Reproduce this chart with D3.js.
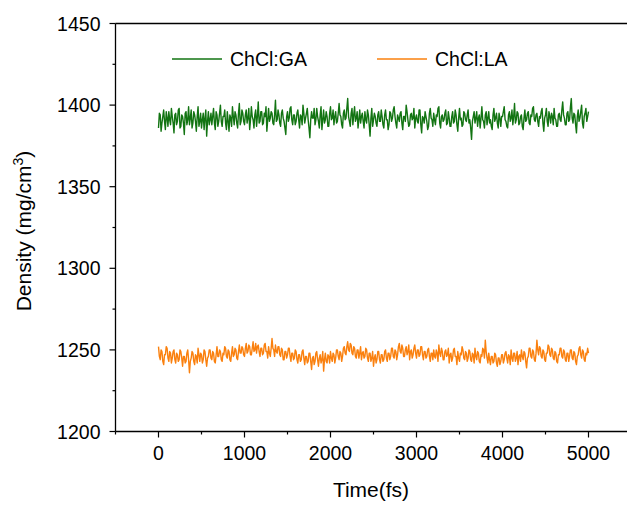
<!DOCTYPE html>
<html>
<head>
<meta charset="utf-8">
<script src="https://cdn.jsdelivr.net/npm/d3@7"></script>
<style>
  body { margin: 0; background: #fff; }
  text { font-family: "Liberation Sans", Arial, sans-serif; fill: #000; }
</style>
</head>
<body>
<div id="chart"></div>
<script>
// density sampled every 10 fs from 0 to 5000
const timeEnd = 5000;

const densityGA = [
  1386,1395,1394,1384,1389,1393,1397,1390,1385,1396,1392,1387,1396,1391,1388,1398,1393,1389,1383,1394,
  1395,1388,1390,1397,1398,1386,1387,1394,1393,1389,1382,1395,1396,1388,1391,1399,1388,1392,1397,1386,
  1389,1396,1394,1390,1384,1393,1399,1387,1390,1395,1386,1391,1395,1385,1392,1397,1381,1390,1396,1388,
  1391,1395,1388,1393,1398,1389,1385,1396,1394,1387,1390,1395,1400,1390,1387,1393,1393,1397,1389,1385,
  1396,1390,1384,1394,1392,1387,1399,1393,1388,1396,1394,1389,1386,1395,1401,1388,1390,1397,1395,1390,
  1388,1394,1397,1389,1392,1398,1385,1391,1399,1393,1391,1386,1394,1397,1387,1393,1402,1389,1390,1396,
  1396,1388,1389,1395,1393,1399,1384,1391,1398,1390,1392,1396,1395,1389,1388,1394,1403,1390,1391,1397,
  1394,1389,1387,1395,1397,1392,1390,1386,1382,1393,1396,1390,1392,1398,1399,1391,1388,1394,1394,1388,
  1390,1395,1397,1391,1386,1394,1393,1388,1400,1395,1389,1392,1395,1398,1391,1386,1380,1391,1396,1392,
  1392,1398,1388,1391,1398,1393,1390,1386,1394,1399,1385,1391,1397,1389,1391,1396,1393,1387,1387,1395,
  1399,1391,1392,1397,1388,1393,1396,1389,1390,1395,1401,1394,1393,1388,1386,1395,1397,1391,1392,1398,
  1404,1393,1390,1387,1395,1398,1388,1394,1399,1390,1392,1396,1386,1391,1397,1389,1393,1395,1390,1386,
  1396,1391,1389,1397,1394,1388,1381,1392,1398,1387,1391,1395,1393,1389,1387,1394,1396,1390,1390,1397,
  1393,1388,1386,1394,1397,1391,1391,1385,1388,1396,1395,1390,1392,1397,1399,1393,1389,1386,1394,1392,
  1390,1395,1396,1389,1385,1393,1393,1390,1400,1396,1391,1387,1388,1394,1395,1391,1392,1398,1386,1392,
  1394,1390,1389,1397,1397,1388,1383,1393,1392,1389,1396,1393,1390,1385,1387,1395,1398,1392,1391,1387,
  1395,1391,1388,1394,1393,1398,1399,1389,1386,1393,1394,1390,1391,1395,1397,1388,1389,1396,1392,1387,
  1387,1393,1396,1389,1390,1397,1394,1388,1384,1392,1398,1391,1392,1387,1388,1396,1395,1391,1390,1394,
  1397,1389,1391,1386,1379,1390,1393,1396,1389,1392,1396,1387,1392,1394,1386,1392,1399,1391,1390,1386,
  1394,1396,1388,1392,1396,1389,1391,1387,1385,1394,1398,1390,1392,1395,1389,1386,1395,1392,1387,1393,
  1393,1396,1399,1391,1390,1387,1386,1394,1396,1390,1392,1397,1388,1393,1401,1389,1391,1396,1395,1388,
  1389,1393,1394,1387,1385,1392,1397,1390,1391,1395,1396,1389,1388,1394,1393,1398,1399,1391,1390,1394,
  1395,1390,1387,1393,1392,1396,1398,1389,1384,1392,1394,1398,1390,1387,1396,1393,1389,1395,1393,1388,
  1398,1392,1391,1387,1387,1394,1395,1391,1390,1397,1402,1394,1392,1388,1388,1395,1396,1390,1391,1399,
  1404,1392,1389,1395,1394,1388,1383,1393,1397,1390,1392,1396,1400,1389,1386,1393,1395,1398,1390,1393,
  1396
];

const densityLA = [
  1252,1246,1244,1250,1249,1243,1241,1247,1247,1252,1251,1245,1243,1249,1248,1242,1245,1249,1250,1244,
  1242,1248,1247,1243,1244,1250,1249,1245,1240,1246,1246,1242,1243,1248,1250,1244,1236,1243,1245,1249,
  1248,1243,1241,1247,1246,1242,1251,1247,1243,1248,1247,1242,1244,1250,1249,1244,1240,1245,1246,1250,
  1250,1245,1244,1249,1248,1243,1242,1247,1252,1246,1246,1250,1249,1244,1243,1248,1247,1252,1251,1246,
  1245,1250,1249,1244,1243,1248,1252,1246,1247,1251,1250,1245,1244,1249,1253,1248,1248,1252,1251,1247,
  1246,1251,1254,1248,1249,1253,1252,1247,1247,1251,1255,1249,1250,1254,1248,1252,1253,1249,1246,1251,
  1251,1247,1248,1253,1254,1249,1249,1245,1252,1248,1246,1251,1257,1251,1250,1246,1253,1249,1248,1252,
  1252,1247,1246,1251,1250,1244,1244,1249,1249,1245,1247,1251,1251,1246,1243,1248,1248,1244,1245,1250,
  1249,1244,1242,1247,1247,1243,1244,1249,1250,1245,1241,1246,1246,1242,1243,1248,1248,1243,1238,1245,
  1246,1241,1243,1248,1249,1244,1240,1245,1247,1242,1244,1249,1237,1244,1248,1243,1242,1247,1246,1242,
  1249,1245,1243,1248,1247,1242,1245,1250,1250,1246,1244,1249,1248,1243,1246,1251,1252,1248,1247,1252,
  1255,1250,1249,1254,1253,1248,1247,1252,1251,1246,1245,1250,1250,1245,1248,1252,1244,1248,1249,1245,
  1246,1251,1250,1245,1243,1248,1248,1243,1245,1249,1240,1245,1247,1242,1244,1249,1249,1244,1242,1247,
  1247,1243,1244,1249,1250,1245,1243,1248,1248,1244,1246,1251,1251,1246,1245,1250,1249,1244,1247,1252,
  1254,1249,1248,1253,1251,1246,1246,1250,1252,1247,1249,1253,1244,1249,1250,1245,1247,1251,1253,1248,
  1245,1250,1250,1246,1247,1252,1252,1247,1244,1249,1249,1245,1246,1250,1251,1246,1243,1248,1248,1244,
  1250,1246,1245,1250,1248,1243,1253,1248,1246,1251,1249,1244,1244,1249,1250,1246,1247,1251,1242,1247,
  1248,1243,1245,1250,1251,1246,1246,1241,1249,1245,1243,1248,1247,1252,1250,1245,1244,1249,1248,1243,
  1245,1250,1249,1244,1243,1248,1247,1242,1251,1246,1244,1249,1248,1243,1242,1247,1246,1251,1250,1245,
  1256,1249,1245,1242,1248,1244,1241,1246,1246,1242,1243,1248,1247,1242,1240,1245,1245,1241,1243,1247,
  1247,1242,1244,1248,1249,1245,1242,1247,1246,1241,1250,1245,1243,1248,1248,1243,1245,1249,1241,1246,
  1247,1243,1250,1246,1244,1249,1248,1243,1239,1245,1246,1251,1251,1246,1245,1250,1249,1244,1243,1248,
  1256,1250,1247,1252,1251,1246,1245,1250,1249,1244,1243,1248,1248,1253,1252,1247,1246,1251,1250,1245,
  1244,1249,1248,1243,1242,1247,1247,1251,1251,1246,1245,1250,1249,1244,1243,1248,1248,1243,1246,1250,
  1250,1245,1244,1249,1248,1243,1241,1246,1247,1251,1252,1247,1245,1250,1249,1244,1243,1248,1247,1251,
  1248
];

const seriesNames = ["ChCl:GA", "ChCl:LA"];
const seriesColors = ["#127412", "#fa800e"];
const xTicks = [0, 1000, 2000, 3000, 4000, 5000];
const yTicks = [1200, 1250, 1300, 1350, 1400, 1450];

const width = 627, height = 506;

const svg = d3.select("#chart").append("svg")
    .attr("width", width)
    .attr("height", height);

const x = d3.scaleLinear().domain([-500, 5500]).range([115.5, 631.5]);
const y = d3.scaleLinear().domain([1200, 1450]).range([431.5, 23.5]);

// series lines, spread evenly over 0..5000 fs
[densityGA, densityLA].forEach(function(s, k) {
    const step = timeEnd / (s.length - 1);
    const line = d3.line()
        .x(function(d, i) { return x(i * step); })
        .y(function(d) { return y(d); });
    svg.append("path")
        .attr("d", line(s))
        .attr("fill", "none")
        .attr("stroke", seriesColors[k])
        .attr("stroke-width", 1.4)
        .attr("stroke-linejoin", "round");
});

// frame (top line, the right side falls outside the picture)
svg.append("line")
    .attr("x1", x(-500)).attr("x2", x(5500))
    .attr("y1", y(1450)).attr("y2", y(1450))
    .attr("stroke", "#000").attr("stroke-width", 1.3);

// y axis
const yAxis = svg.append("g").attr("transform", `translate(${x(-500)},0)`);
yAxis.append("line")
    .attr("y1", y(1450)).attr("y2", y(1200))
    .attr("stroke", "#000").attr("stroke-width", 1.3);
yAxis.selectAll(".ymin")
    .data(d3.range(1225, 1450, 50)).enter()
    .append("line")
    .attr("x1", -3).attr("x2", 0)
    .attr("y1", function(d) { return y(d); }).attr("y2", function(d) { return y(d); })
    .attr("stroke", "#000").attr("stroke-width", 1.2);
yAxis.selectAll(".ymaj")
    .data(yTicks).enter()
    .append("line")
    .attr("x1", -6).attr("x2", 0)
    .attr("y1", function(d) { return y(d); }).attr("y2", function(d) { return y(d); })
    .attr("stroke", "#000").attr("stroke-width", 1.2);
yAxis.selectAll(".ylab")
    .data(yTicks).enter()
    .append("text")
    .attr("x", -15)
    .attr("y", function(d) { return y(d); })
    .attr("dy", "0.36em")
    .attr("text-anchor", "end")
    .style("font-size", "19.5px")
    .text(function(d) { return d; });

// x axis
const xAxis = svg.append("g").attr("transform", `translate(0,${y(1200)})`);
xAxis.append("line")
    .attr("x1", x(-500)).attr("x2", x(5500))
    .attr("stroke", "#000").attr("stroke-width", 1.3);
xAxis.selectAll(".xmin")
    .data(d3.range(-500, 5501, 1000)).enter()
    .append("line")
    .attr("x1", function(d) { return x(d); }).attr("x2", function(d) { return x(d); })
    .attr("y1", 0).attr("y2", 3)
    .attr("stroke", "#000").attr("stroke-width", 1.2);
xAxis.selectAll(".xmaj")
    .data(xTicks).enter()
    .append("line")
    .attr("x1", function(d) { return x(d); }).attr("x2", function(d) { return x(d); })
    .attr("y1", 0).attr("y2", 6)
    .attr("stroke", "#000").attr("stroke-width", 1.2);
xAxis.selectAll(".xlab")
    .data(xTicks).enter()
    .append("text")
    .attr("x", function(d) { return x(d); })
    .attr("y", 28)
    .attr("text-anchor", "middle")
    .style("font-size", "19.5px")
    .text(function(d) { return d; });

// axis titles
svg.append("text")
    .attr("x", 371).attr("y", 497)
    .attr("text-anchor", "middle")
    .style("font-size", "21px")
    .text("Time(fs)");

const yTitle = svg.append("text")
    .attr("transform", "translate(31,231) rotate(-90)")
    .attr("text-anchor", "middle")
    .style("font-size", "21px");
yTitle.append("tspan").text("Density (mg/cm");
yTitle.append("tspan").attr("dy", -8).style("font-size", "14px").text("3");
yTitle.append("tspan").attr("dy", 8).text(")");

// legend
const legendX = [172, 377];
const legend = svg.selectAll(".legend")
    .data(seriesNames).enter()
    .append("g")
    .attr("transform", function(d, i) { return `translate(${legendX[i]},59)`; });
legend.append("line")
    .attr("x1", 0).attr("x2", 50)
    .attr("stroke", function(d, i) { return seriesColors[i]; })
    .attr("stroke-width", 1.5);
legend.append("text")
    .attr("x", 58).attr("dy", "0.36em")
    .style("font-size", "19.5px")
    .text(function(d) { return d; });
</script>
</body>
</html>
